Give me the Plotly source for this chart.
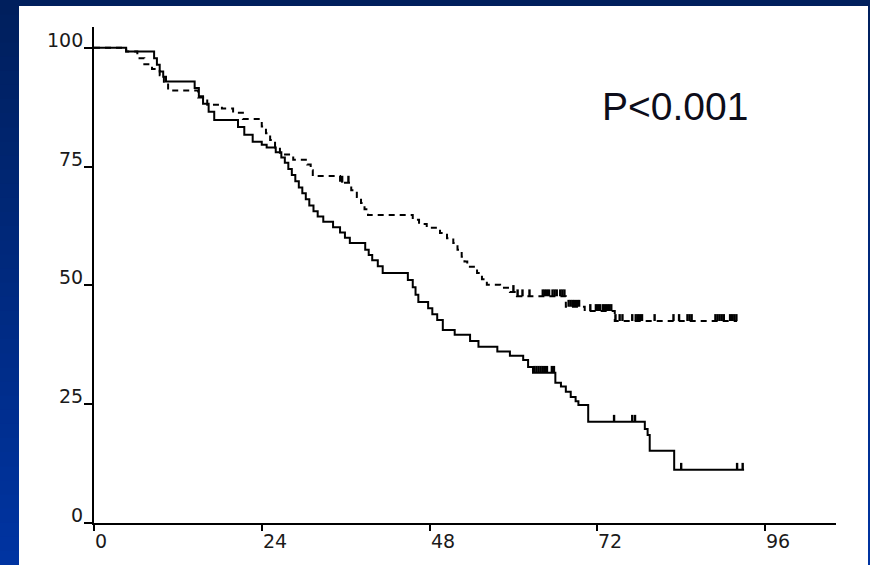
import numpy as np
import plotly.graph_objects as go

# Kaplan-Meier survival (%) by month, two groups
solid_t = [0, 4.6, 8.6, 9.0, 9.4, 9.9, 10.3, 14.4, 15.0, 15.6, 16.4, 17.2, 20.6, 21.5,
           22.7, 24.0, 24.7, 26.0, 26.8, 27.3, 27.8, 28.3, 28.8, 29.3, 29.8, 30.3, 30.8,
           31.4, 32.0, 32.8, 34.2, 35.2, 35.9, 36.6, 38.8, 39.3, 39.8, 40.6, 41.3, 44.9,
           45.6, 46.0, 46.4, 47.8, 48.4, 49.1, 49.9, 51.6, 53.8, 55.0, 57.7, 59.5, 61.4,
           62.1, 62.8, 66.0, 66.8, 67.5, 68.2, 68.9, 69.3, 70.7, 78.8, 79.2, 79.5, 83.0]
solid_s = [100, 99.2, 97.8, 96.4, 95.0, 93.9, 92.9, 91.5, 89.8, 88.2, 86.5, 84.8, 83.3, 81.7,
           80.2, 79.6, 79.0, 78.0, 76.9, 75.8, 74.5, 73.2, 71.9, 70.6, 69.4, 68.1, 66.8,
           65.6, 64.5, 63.4, 62.2, 61.1, 60.0, 58.9, 57.5, 56.4, 55.3, 54.0, 52.6, 51.1,
           49.6, 48.0, 46.5, 45.2, 43.9, 42.7, 40.6, 39.6, 38.3, 37.1, 36.1, 35.2, 34.3,
           32.8, 31.6, 29.5, 28.7, 27.6, 26.5, 25.6, 24.8, 21.3, 19.8, 18.5, 15.2, 11.2]
solid_end = 93.0
solid_censored = [63.0, 63.3, 63.6, 63.9, 64.2, 64.5, 64.8, 65.5, 65.8,
                  74.4, 77.0, 77.4, 84.0, 92.0, 92.8]

dashed_t = [0, 4.6, 6.2, 7.2, 8.3, 9.4, 10.0, 10.6, 14.9, 16.2, 18.3, 19.9, 21.3, 24.0,
            24.6, 25.2, 25.9, 26.6, 28.5, 30.5, 31.0, 31.3, 35.2, 36.8, 37.6, 38.2, 38.7,
            39.2, 45.6, 46.5, 47.6, 49.5, 50.5, 51.4, 52.0, 52.6, 53.0, 53.4, 54.8, 55.5,
            56.2, 58.1, 59.5, 60.5, 67.5, 70.2, 74.5]
dashed_s = [100, 99.2, 97.8, 96.5, 95.5, 94.2, 92.5, 91.0, 89.5, 88.0, 87.2, 86.3, 85.0, 83.4,
            82.0, 80.6, 79.0, 77.5, 76.4, 75.4, 74.2, 73.0, 71.6, 70.0, 68.6, 67.3, 66.0,
            64.8, 63.8, 62.9, 62.1, 61.0, 59.9, 58.9, 57.5, 56.0, 55.0, 53.9, 52.6, 51.3,
            50.1, 49.5, 48.6, 47.7, 45.5, 44.6, 42.5]
dashed_end = 92.0
dashed_censored = [35.5, 36.4,
                   60.0, 60.6, 61.3, 62.3,
                   64.2, 64.5, 64.8, 65.1, 65.6, 65.9, 66.2, 66.7, 67.0, 67.3,
                   67.9, 68.2, 68.5, 68.8, 69.1, 69.4,
                   71.0, 71.8, 72.1, 72.4, 72.8, 73.1, 73.4, 73.7, 74.0,
                   74.6, 75.2, 75.6, 77.0, 77.5, 77.8, 78.1, 78.4, 80.2,
                   82.9, 83.7, 84.9, 85.2, 85.5,
                   88.9, 89.2, 89.5, 89.8, 90.1, 91.0, 91.3, 91.6, 91.9]

x_ticks = [0, 24, 48, 72, 96]
y_ticks = [0, 25, 50, 75, 100]
p_text = "P<0.001"

# canvas geometry
W, H = 870, 565
L, R, T, B = 94, 34, 27, 42
PW, PH = W - L - R, H - T - B
X_MAX, Y_MAX = 106.15, 104.35
TICK_UP = 1.45  # height of censor marks, in % units


def paper_x(px):
    return (px - L) / PW


def paper_y(py):
    return (H - B - py) / PH


def step_value(times, surv, t):
    i = np.searchsorted(np.asarray(times), t, side="right") - 1
    return surv[max(i, 0)]


def censor_segments(times, surv, cens):
    xs, ys = [], []
    for c in cens:
        s = step_value(times, surv, c)
        xs += [c, c, None]
        ys += [s, s + TICK_UP, None]
    return xs, ys


fig = go.Figure()

for times, surv, end, cens, dash in [
    (solid_t, solid_s, solid_end, solid_censored, "solid"),
    (dashed_t, dashed_s, dashed_end, dashed_censored, "6px,5px"),
]:
    fig.add_trace(go.Scatter(
        x=list(times) + [end], y=list(surv) + [surv[-1]],
        mode="lines", line=dict(color="#000000", width=2, dash=dash, shape="hv"),
        hoverinfo="skip", showlegend=False,
    ))
    cx, cy = censor_segments(times, surv, cens)
    fig.add_trace(go.Scatter(
        x=cx, y=cy, mode="lines", line=dict(color="#000000", width=2.4),
        hoverinfo="skip", showlegend=False,
    ))

# backdrop: vertical navy-to-blue gradient with a white panel on top
shapes = []
n_bands = 40
top_rgb = np.array([0, 31, 92])
bot_rgb = np.array([0, 52, 162])
for i in range(n_bands):
    y0 = H * i / n_bands
    y1 = H * (i + 1) / n_bands + 1
    c = top_rgb + (bot_rgb - top_rgb) * (i + 0.5) / n_bands
    shapes.append(dict(
        type="rect", xref="paper", yref="paper", layer="below",
        x0=paper_x(0), x1=paper_x(W), y0=paper_y(y1), y1=paper_y(y0),
        fillcolor="rgb(%d,%d,%d)" % tuple(c.round().astype(int)), line=dict(width=0),
    ))
shapes.append(dict(
    type="rect", xref="paper", yref="paper", layer="below",
    x0=paper_x(19), x1=paper_x(868), y0=paper_y(H + 2), y1=paper_y(6),
    fillcolor="#ffffff", line=dict(width=0),
))

annotations = []
label_font = dict(family="DejaVu Sans", size=19, color="#1a1a1a")
for v in x_ticks:
    annotations.append(dict(
        x=v, y=0, xref="x", yref="y", text=str(v), showarrow=False,
        xanchor="left", yanchor="top", xshift=-1, yshift=-5, font=label_font,
    ))
for v in y_ticks:
    annotations.append(dict(
        x=0, y=v, xref="x", yref="y", text=str(v), showarrow=False,
        xanchor="right", yanchor="bottom", xshift=-9, yshift=-5, font=label_font,
    ))
annotations.append(dict(
    x=72.4, y=87.6, xref="x", yref="y", text=p_text, showarrow=False,
    xanchor="left", yanchor="middle",
    font=dict(family="Liberation Sans", size=39, color="#0d0d1a"),
))

axis_common = dict(
    showgrid=False, zeroline=False, showline=True, linecolor="#000000", linewidth=2,
    ticks="outside", tickcolor="#000000", tickwidth=2, showticklabels=False,
)
fig.update_layout(
    width=W, height=H,
    margin=dict(l=L, r=R, t=T, b=B, pad=0),
    paper_bgcolor="rgb(0,40,120)",
    plot_bgcolor="rgba(0,0,0,0)",
    xaxis=dict(range=[0, X_MAX], tickvals=x_ticks, ticklen=6, **axis_common),
    yaxis=dict(range=[0, Y_MAX], tickvals=y_ticks, ticklen=8, **axis_common),
    shapes=shapes,
    annotations=annotations,
)

fig.write_html("out.html")
